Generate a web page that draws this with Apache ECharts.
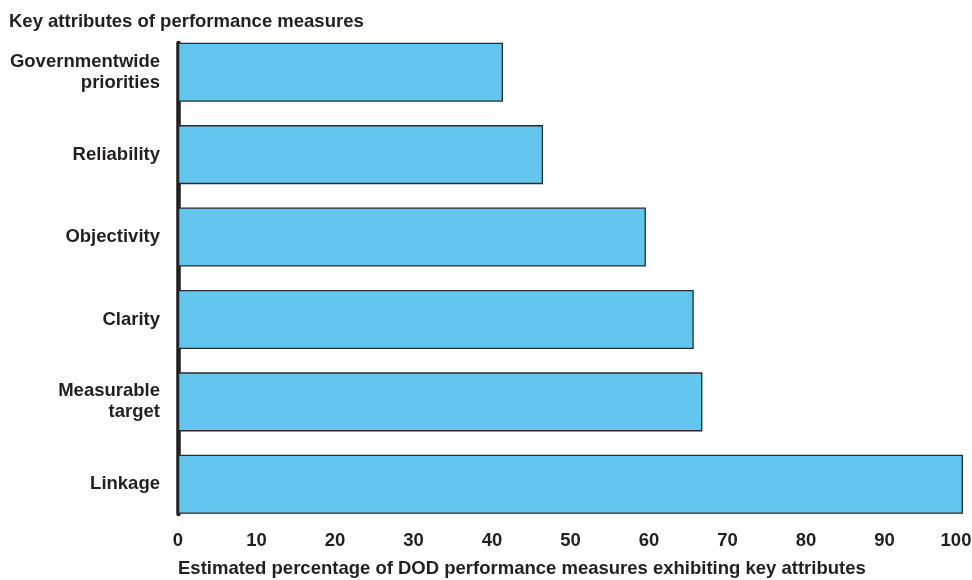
<!DOCTYPE html>
<html>
<head>
<meta charset="utf-8">
<script src="https://cdn.jsdelivr.net/npm/echarts@6/dist/echarts.min.js"></script>
<style>
html,body{margin:0;padding:0;background:#fff;}
#chart{width:972px;height:580px;}
</style>
</head>
<body>
<div id="chart"></div>
<script>
var categories = ['Governmentwide\npriorities', 'Reliability', 'Objectivity', 'Clarity', 'Measurable\ntarget', 'Linkage'];
var values = [41.4, 46.5, 59.6, 65.7, 66.8, 100];
var xTicks = { min: 0, max: 100, interval: 10 };
var titleText = 'Key attributes of performance measures';
var xAxisName = 'Estimated percentage of DOD performance measures exhibiting key attributes';

var FONT = "'Liberation Sans', Arial, Helvetica, sans-serif";
var TXT = '#231f20';
var FS = 18.5;

var chart = echarts.init(document.getElementById('chart'), null, { renderer: 'canvas' });
chart.setOption({
  animation: false,
  backgroundColor: '#ffffff',
  title: {
    text: titleText,
    left: 9,
    top: 12,
    padding: 0,
    textStyle: { fontFamily: FONT, fontSize: FS, fontWeight: 'bold', color: TXT }
  },
  grid: [
    { left: 178, right: 9, top: 31, bottom: 54.5, outerBoundsMode: 'none', containLabel: false },
    { left: 178, right: 9, top: 43, bottom: 66, outerBoundsMode: 'none', containLabel: false }
  ],
  xAxis: [
    {
      type: 'value',
      gridIndex: 0,
      min: xTicks.min,
      max: xTicks.max,
      interval: xTicks.interval,
      axisLine: { show: false },
      axisTick: { show: false },
      splitLine: { show: false },
      axisLabel: {
        margin: 6,
        fontFamily: FONT,
        fontSize: FS,
        fontWeight: 'bold',
        color: TXT,
        formatter: function (v) { return v === xTicks.max ? '{last|' + v + '}' : String(v); },
        rich: {
          last: { fontFamily: FONT, fontSize: FS, fontWeight: 'bold', color: TXT, padding: [0, 14, 0, 0] }
        }
      },
      name: xAxisName,
      nameLocation: 'start',
      nameGap: 0,
      nameTextStyle: {
        fontFamily: FONT, fontSize: FS, fontWeight: 'bold', color: TXT,
        align: 'left', verticalAlign: 'top', padding: [34, 0, 0, 0]
      }
    },
    {
      type: 'value',
      gridIndex: 1,
      show: false,
      min: 0,
      max: 1
    }
  ],
  yAxis: [
    {
      type: 'category',
      gridIndex: 0,
      data: categories,
      inverse: true,
      axisLine: { show: false },
      axisTick: { show: false },
      splitLine: { show: false },
      axisLabel: {
        margin: 18,
        fontFamily: FONT,
        fontSize: FS,
        fontWeight: 'bold',
        color: TXT,
        lineHeight: 21
      }
    },
    {
      type: 'value',
      gridIndex: 1,
      min: 0,
      max: 1,
      axisLine: { show: true, lineStyle: { color: TXT, width: 4.5 } },
      axisTick: { show: false },
      axisLabel: { show: false },
      splitLine: { show: false }
    }
  ],
  series: [
    {
      type: 'bar',
      xAxisIndex: 0,
      yAxisIndex: 0,
      data: values,
      barCategoryGap: '28.4%',
      itemStyle: { color: '#62c6ee', borderColor: '#2a2a2a', borderWidth: 1.3 },
      label: { show: false }
    }
  ]
});
</script>
</body>
</html>
